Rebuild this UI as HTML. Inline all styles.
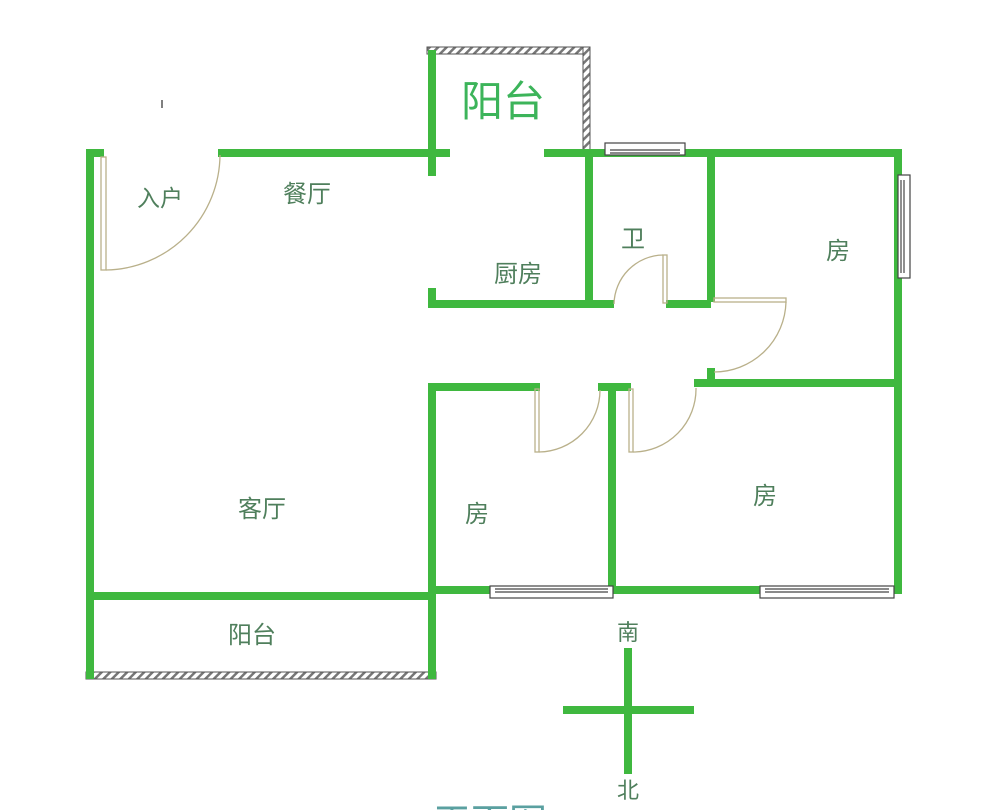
<!DOCTYPE html>
<html><head><meta charset="utf-8"><style>
html,body{margin:0;padding:0;background:#fff;}
svg{display:block;}
text{font-family:"Liberation Sans","Noto Sans CJK SC",sans-serif;fill:#4f7f5c;text-anchor:middle;}
</style></head><body>
<svg width="1000" height="810" viewBox="0 0 1000 810" xmlns="http://www.w3.org/2000/svg">
<defs>
<pattern id="h" width="6" height="6" patternUnits="userSpaceOnUse" patternTransform="rotate(45)">
<rect width="6" height="6" fill="#fff"/><rect width="2.5" height="6" fill="#777"/></pattern>
</defs>
<rect x="427" y="47" width="163" height="7" fill="url(#h)" stroke="#555" stroke-width="1"/>
<rect x="583" y="47" width="7" height="106" fill="url(#h)" stroke="#555" stroke-width="1"/>
<rect x="86" y="672" width="350" height="7" fill="url(#h)" stroke="#555" stroke-width="1"/>
<g stroke="#3fb83f" stroke-width="8" stroke-linecap="square" fill="none">
<line x1="90" y1="153" x2="90" y2="675"/>
<line x1="90" y1="153" x2="100" y2="153"/>
<line x1="222" y1="153" x2="446" y2="153"/>
<line x1="432" y1="54" x2="432" y2="172"/>
<line x1="548" y1="153" x2="898" y2="153"/>
<line x1="898" y1="153" x2="898" y2="590"/>
<line x1="432" y1="292" x2="432" y2="304"/>
<line x1="432" y1="304" x2="610" y2="304"/>
<line x1="589" y1="153" x2="589" y2="304"/>
<line x1="711" y1="153" x2="711" y2="298"/>
<line x1="670" y1="304" x2="707" y2="304"/>
<line x1="711" y1="372" x2="711" y2="383"/>
<line x1="698" y1="383" x2="898" y2="383"/>
<line x1="432" y1="387" x2="536" y2="387"/>
<line x1="602" y1="387" x2="627" y2="387"/>
<line x1="432" y1="387" x2="432" y2="675"/>
<line x1="612" y1="387" x2="612" y2="590"/>
<line x1="432" y1="590" x2="898" y2="590"/>
<line x1="90" y1="596" x2="432" y2="596"/>
<line x1="628" y1="652" x2="628" y2="770"/>
<line x1="567" y1="710" x2="690" y2="710"/>
</g>
<g fill="#fff" stroke="#444" stroke-width="1.2">
<rect x="605" y="143" width="80" height="12"/>
<line x1="610" y1="150" x2="680" y2="150"/>
<line x1="610" y1="153" x2="680" y2="153"/>
<rect x="898" y="175" width="12" height="103"/>
<line x1="901" y1="180" x2="901" y2="273"/>
<line x1="904" y1="180" x2="904" y2="273"/>
<rect x="490" y="586" width="123" height="12"/>
<line x1="495" y1="589" x2="608" y2="589"/>
<line x1="495" y1="592" x2="608" y2="592"/>
<rect x="760" y="586" width="134" height="12"/>
<line x1="765" y1="589" x2="889" y2="589"/>
<line x1="765" y1="592" x2="889" y2="592"/>
</g>
<g fill="none" stroke="#b9b08a" stroke-width="1.3">
<rect x="101" y="157" width="5" height="113"/>
<path d="M220 155 A116 116 0 0 1 106 270"/>
<rect x="663" y="255" width="4" height="48"/>
<path d="M663 255 A50 50 0 0 0 614 304"/>
<rect x="714" y="298" width="72" height="4"/>
<path d="M786 302 A72 72 0 0 1 714 372"/>
<rect x="535" y="389" width="4" height="63"/>
<path d="M539 452 A62 62 0 0 0 600 390"/>
<rect x="629" y="389" width="4" height="63"/>
<path d="M633 452 A63 63 0 0 0 696 388"/>
</g>
<line x1="162" y1="100" x2="162" y2="108" stroke="#555" stroke-width="1.5"/>
<text x="503" y="116" font-size="42" style="fill:#3cb45a">阳台</text>
<text x="160" y="206" font-size="23">入户</text>
<text x="307" y="202" font-size="24">餐厅</text>
<text x="518" y="282" font-size="24">厨房</text>
<text x="633" y="247" font-size="24">卫</text>
<text x="838" y="259" font-size="24">房</text>
<text x="262" y="517" font-size="24">客厅</text>
<text x="477" y="522" font-size="24">房</text>
<text x="765" y="504" font-size="24">房</text>
<text x="252" y="643" font-size="24">阳台</text>
<text x="628" y="640" font-size="22">南</text>
<text x="628" y="798" font-size="22">北</text>
<text x="490" y="836" font-size="38" style="fill:#5aa0a0">平面图</text>
</svg>
</body></html>
